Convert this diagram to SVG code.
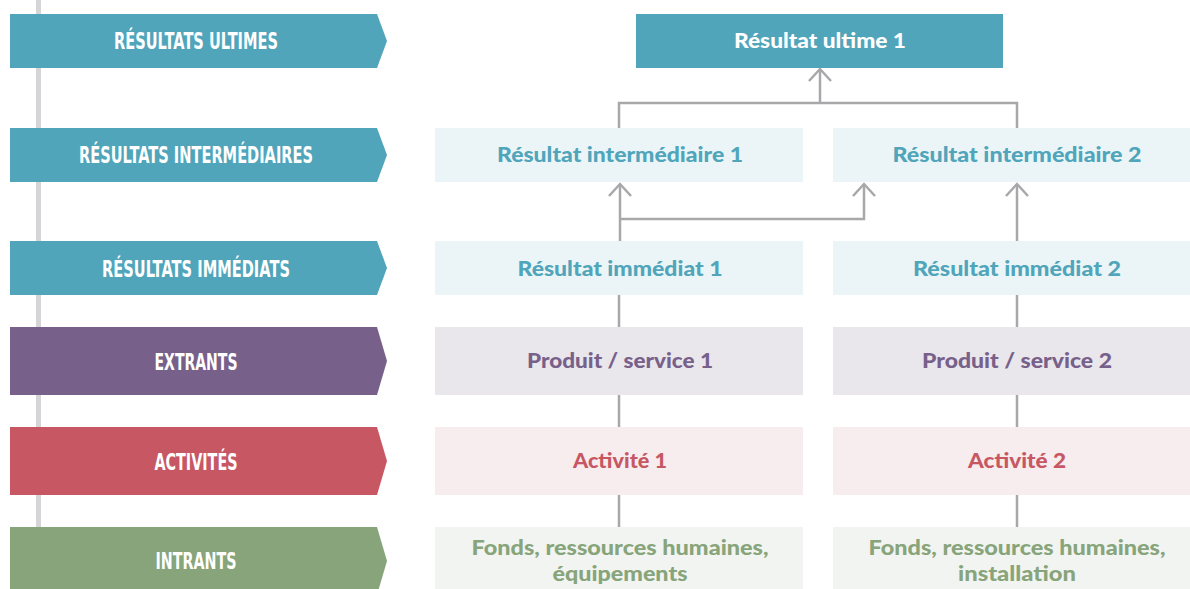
<svg xmlns="http://www.w3.org/2000/svg" width="1190" height="589" viewBox="0 0 1190 589">
  <style>
    .band { font-family: "DejaVu Sans", "Liberation Sans", sans-serif; font-weight: bold; font-size: 23px; fill: #ffffff; text-anchor: middle; }
    .box { font-family: Lato, "Liberation Sans", Arial, sans-serif; font-weight: 900; font-size: 21px; text-anchor: middle; }
    .teal { fill: #50a5ba; }
    .purple { fill: #776089; }
    .red { fill: #c65763; }
    .green { fill: #87a47a; }
    .teal-l { fill: #ebf5f8; }
    .purple-l { fill: #e9e6ec; }
    .red-l { fill: #f7ecee; }
    .green-l { fill: #f2f4f1; }
    .conn { fill: none; stroke: #a8a8ab; stroke-width: 2.5; }
  </style>
  <defs>
    <!-- open chevron head, 22 px wide -->
    <marker id="chev" viewBox="-1 -13 15 26" refX="12" refY="0" markerWidth="15" markerHeight="26" markerUnits="userSpaceOnUse" orient="auto">
      <path d="M0,-11 L12,0 L0,11" fill="none" stroke="#a8a8ab" stroke-width="2.5"/>
    </marker>
  </defs>
  <rect width="1190" height="589" fill="#ffffff"/>

  <!-- timeline rail behind the level bands -->
  <rect x="36" y="0" width="5" height="530" fill="#d5d5d7"/>

  <!-- level bands -->
  <g id="band-ultimes">
    <polygon class="teal" points="10,14 377,14 387,41 377,68 10,68"/>
    <text class="band" x="196" y="49" textLength="164" lengthAdjust="spacingAndGlyphs">RÉSULTATS ULTIMES</text>
  </g>
  <g id="band-intermediaires">
    <polygon class="teal" points="10,128 377,128 387,155 377,182 10,182"/>
    <text class="band" x="196" y="163" textLength="234" lengthAdjust="spacingAndGlyphs">RÉSULTATS INTERMÉDIAIRES</text>
  </g>
  <g id="band-immediats">
    <polygon class="teal" points="10,241 377,241 387,268 377,295 10,295"/>
    <text class="band" x="196" y="277" textLength="188" lengthAdjust="spacingAndGlyphs">RÉSULTATS IMMÉDIATS</text>
  </g>
  <g id="band-extrants">
    <polygon class="purple" points="10,327 377,327 387,361 377,395 10,395"/>
    <text class="band" x="196" y="370" textLength="83" lengthAdjust="spacingAndGlyphs">EXTRANTS</text>
  </g>
  <g id="band-activites">
    <polygon class="red" points="10,427 377,427 387,461 377,495 10,495"/>
    <text class="band" x="196" y="470" textLength="83" lengthAdjust="spacingAndGlyphs">ACTIVITÉS</text>
  </g>
  <g id="band-intrants">
    <polygon class="green" points="10,527 377,527 387,561 377,595 10,595"/>
    <text class="band" x="196" y="569" textLength="81" lengthAdjust="spacingAndGlyphs">INTRANTS</text>
  </g>

  <!-- connectors -->
  <g id="connectors">
    <path class="conn" d="M619,128 V103 H1017 V128"/>
    <path class="conn" d="M820,103 V69" marker-end="url(#chev)"/>
    <path class="conn" d="M620,241 V184" marker-end="url(#chev)"/>
    <path class="conn" d="M620,219 H864 V184" marker-end="url(#chev)"/>
    <path class="conn" d="M1017,241 V184" marker-end="url(#chev)"/>
    <path class="conn" d="M619,295 V327 M1017,295 V327"/>
    <path class="conn" d="M619,395 V427 M1017,395 V427"/>
    <path class="conn" d="M619,495 V527 M1017,495 V527"/>
  </g>

  <!-- nodes -->
  <g id="ultime-1">
    <rect class="teal" x="636" y="14" width="367" height="54"/>
    <text class="box" x="820" y="48" fill="#ffffff" textLength="172" lengthAdjust="spacingAndGlyphs">Résultat ultime 1</text>
  </g>
  <g id="intermediaire-1">
    <rect class="teal-l" x="435" y="128" width="368" height="54"/>
    <text class="box teal" x="620" y="162" textLength="246" lengthAdjust="spacingAndGlyphs">Résultat intermédiaire 1</text>
  </g>
  <g id="intermediaire-2">
    <rect class="teal-l" x="833" y="128" width="368" height="54"/>
    <text class="box teal" x="1017" y="162" textLength="249" lengthAdjust="spacingAndGlyphs">Résultat intermédiaire 2</text>
  </g>
  <g id="immediat-1">
    <rect class="teal-l" x="435" y="241" width="368" height="54"/>
    <text class="box teal" x="620" y="276" textLength="205" lengthAdjust="spacingAndGlyphs">Résultat immédiat 1</text>
  </g>
  <g id="immediat-2">
    <rect class="teal-l" x="833" y="241" width="368" height="54"/>
    <text class="box teal" x="1017" y="276" textLength="208" lengthAdjust="spacingAndGlyphs">Résultat immédiat 2</text>
  </g>
  <g id="produit-1">
    <rect class="purple-l" x="435" y="327" width="368" height="68"/>
    <text class="box purple" x="620" y="368" textLength="186" lengthAdjust="spacingAndGlyphs">Produit / service 1</text>
  </g>
  <g id="produit-2">
    <rect class="purple-l" x="833" y="327" width="368" height="68"/>
    <text class="box purple" x="1017" y="368" textLength="190" lengthAdjust="spacingAndGlyphs">Produit / service 2</text>
  </g>
  <g id="activite-1">
    <rect class="red-l" x="435" y="427" width="368" height="68"/>
    <text class="box red" x="620" y="468" textLength="94" lengthAdjust="spacingAndGlyphs">Activité 1</text>
  </g>
  <g id="activite-2">
    <rect class="red-l" x="833" y="427" width="368" height="68"/>
    <text class="box red" x="1017" y="468" textLength="98" lengthAdjust="spacingAndGlyphs">Activité 2</text>
  </g>
  <g id="intrants-1">
    <rect class="green-l" x="435" y="527" width="368" height="68"/>
    <text class="box green" x="620" y="555" textLength="297" lengthAdjust="spacingAndGlyphs">Fonds, ressources humaines,</text>
    <text class="box green" x="620" y="581" textLength="135" lengthAdjust="spacingAndGlyphs">équipements</text>
  </g>
  <g id="intrants-2">
    <rect class="green-l" x="833" y="527" width="368" height="68"/>
    <text class="box green" x="1017" y="555" textLength="297" lengthAdjust="spacingAndGlyphs">Fonds, ressources humaines,</text>
    <text class="box green" x="1017" y="581" textLength="118" lengthAdjust="spacingAndGlyphs">installation</text>
  </g>
</svg>
